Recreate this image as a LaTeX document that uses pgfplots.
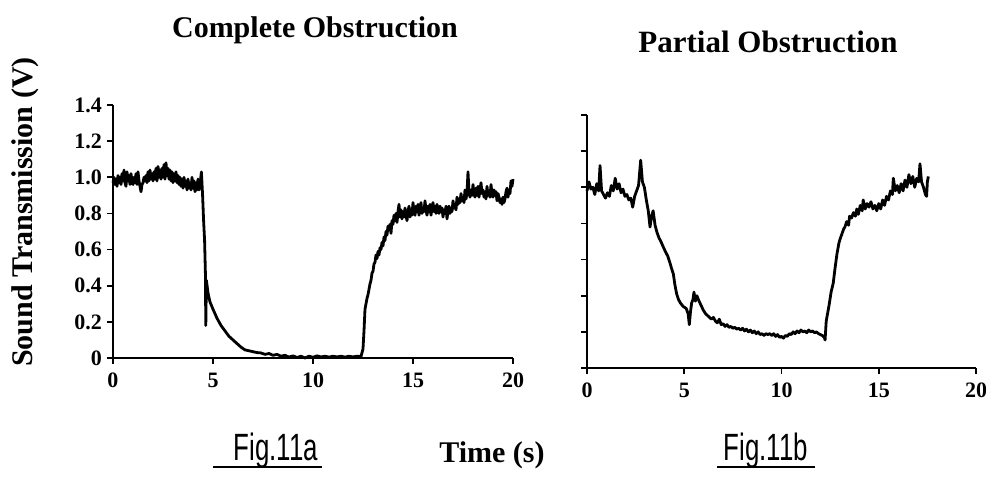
\documentclass[border=0pt]{standalone}
\usepackage{pgfplots}
\pgfplotsset{compat=1.18}
\usepackage{fontspec}
\setmainfont{Liberation Serif}
\newfontfamily\hand{Liberation Sans}
\begin{document}
\begin{tikzpicture}
\useasboundingbox (0,0) rectangle (493pt,-241.5pt);
\pgfplotsset{
  myax/.style={
    scale only axis, height=126.5pt,
    xmin=0, xmax=20, ymin=0, ymax=1.4,
    axis lines=left, axis line style={-, line width=1.3pt},
    xtick={0,5,10,15,20}, xticklabels={0,5,10,15,20},
    ytick={0,0.2,0.4,0.6,0.8,1.0,1.2,1.4},
    tick align=outside, major tick length=3pt,
    tick style={line width=0.9pt, black},
    tick label style={font=\bfseries\fontsize{11}{11}\selectfont},
    xticklabel style={yshift=-1pt},
    clip=false,
  }
}
\begin{axis}[myax, width=200pt, at={(56.5pt,-179pt)}, anchor=south west,
  yticklabels={0,0.2,0.4,0.6,0.8,1.0,1.2,1.4},
  yticklabel style={xshift=1pt}]
\addplot[black, line width=1.4pt, line join=round] coordinates {
(0.0,0.97)(0.05,1.00)(0.1,0.96)(0.15,0.99)(0.2,0.95)(0.25,1.01)(0.3,0.97)(0.35,1.00)(0.4,0.96)(0.45,1.02)
(0.5,0.98)(0.55,1.04)(0.6,0.97)(0.65,0.95)(0.7,1.03)(0.75,0.98)(0.8,1.01)(0.85,0.96)(0.9,1.02)(0.95,0.98)
(1.0,0.96)(1.05,1.00)(1.1,0.97)(1.15,1.02)(1.2,0.96)(1.25,1.03)(1.3,0.98)(1.35,0.95)(1.4,0.92)(1.45,0.96)
(1.5,0.97)(1.55,1.00)(1.6,0.98)(1.65,1.01)(1.7,0.97)(1.75,1.03)(1.8,0.98)(1.85,1.04)(1.9,0.99)(1.95,1.02)
(2.0,0.98)(2.05,1.03)(2.1,0.99)(2.15,1.05)(2.2,0.98)(2.25,1.06)(2.3,1.00)(2.35,1.04)(2.4,0.99)(2.45,1.05)
(2.5,1.00)(2.55,1.07)(2.6,0.99)(2.65,1.08)(2.7,1.01)(2.75,1.05)(2.8,0.99)(2.85,1.04)(2.9,0.98)(2.95,1.03)
(3.0,0.97)(3.05,1.02)(3.1,0.98)(3.15,1.03)(3.2,0.97)(3.25,1.01)(3.3,0.96)(3.35,1.00)(3.4,0.95)(3.45,0.99)
(3.5,0.94)(3.55,1.00)(3.6,0.95)(3.65,0.98)(3.7,0.93)(3.75,0.99)(3.8,0.94)(3.85,0.97)(3.9,0.93)(3.95,1.00)
(4.0,0.94)(4.05,0.98)(4.1,0.92)(4.15,0.97)(4.2,0.93)(4.25,0.99)(4.3,0.93)(4.35,0.96)(4.42,1.03)
(4.48,0.90)(4.53,0.76)(4.58,0.65)(4.62,0.47)(4.64,0.18)(4.67,0.43)(4.75,0.36)(4.85,0.31)(5.0,0.27)
(5.2,0.22)(5.4,0.18)(5.6,0.15)(5.8,0.12)(6.0,0.10)(6.2,0.08)(6.4,0.06)(6.6,0.045)(6.8,0.04)(7.0,0.035)
(7.2,0.03)(7.4,0.028)(7.6,0.02)(7.8,0.025)(8.0,0.015)(8.2,0.02)(8.4,0.01)(8.6,0.015)(8.8,0.005)(9.0,0.012)
(9.2,0.003)(9.4,0.01)(9.6,0.0)(9.8,0.01)(10.0,0.004)(10.2,0.012)(10.4,0.006)(10.6,0.01)(10.8,0.005)(11.0,0.01)
(11.2,0.006)(11.4,0.01)(11.6,0.005)(11.8,0.01)(12.0,0.006)(12.2,0.01)(12.4,0.008)(12.5,0.05)(12.55,0.15)
(12.6,0.27)(12.65,0.30)(12.7,0.33)(12.75,0.35)(12.8,0.38)(12.85,0.41)(12.9,0.43)(12.95,0.47)(13.0,0.48)
(13.05,0.52)(13.1,0.53)(13.15,0.57)(13.2,0.55)(13.25,0.59)(13.3,0.57)(13.35,0.61)(13.4,0.60)(13.45,0.64)
(13.5,0.62)(13.55,0.67)(13.6,0.65)(13.65,0.70)(13.7,0.68)(13.75,0.73)(13.8,0.71)(13.85,0.74)(13.9,0.69)
(13.95,0.76)(14.0,0.74)(14.05,0.79)(14.1,0.76)(14.15,0.80)(14.2,0.75)(14.25,0.81)(14.3,0.85)(14.35,0.78)
(14.4,0.82)(14.45,0.77)(14.5,0.81)(14.55,0.78)(14.6,0.83)(14.65,0.79)(14.7,0.76)(14.75,0.81)(14.8,0.84)
(14.85,0.78)(14.9,0.82)(14.95,0.79)(15.0,0.86)(15.05,0.81)(15.1,0.79)(15.15,0.84)(15.2,0.81)(15.25,0.85)
(15.3,0.79)(15.35,0.83)(15.4,0.86)(15.45,0.80)(15.5,0.83)(15.55,0.81)(15.6,0.87)(15.65,0.82)(15.7,0.79)
(15.75,0.84)(15.8,0.81)(15.85,0.85)(15.9,0.79)(15.95,0.83)(16.0,0.86)(16.05,0.81)(16.1,0.84)(16.15,0.80)
(16.2,0.85)(16.25,0.82)(16.3,0.80)(16.35,0.84)(16.4,0.81)(16.45,0.83)(16.5,0.78)(16.55,0.82)(16.6,0.80)
(16.65,0.84)(16.7,0.77)(16.75,0.81)(16.8,0.84)(16.85,0.80)(16.9,0.83)(16.95,0.81)(17.0,0.87)(17.05,0.83)
(17.1,0.85)(17.15,0.82)(17.2,0.89)(17.25,0.85)(17.3,0.88)(17.35,0.86)(17.4,0.91)(17.45,0.87)(17.5,0.89)
(17.55,0.86)(17.6,0.93)(17.65,0.88)(17.7,0.91)(17.75,1.03)(17.8,0.92)(17.85,0.89)(17.9,0.93)(17.95,0.90)
(18.0,0.96)(18.05,0.91)(18.1,0.89)(18.15,0.94)(18.2,0.90)(18.25,0.95)(18.3,0.89)(18.35,0.93)(18.4,0.97)
(18.45,0.91)(18.5,0.93)(18.55,0.89)(18.6,0.92)(18.65,0.88)(18.7,0.95)(18.75,0.90)(18.8,0.92)(18.85,0.89)
(18.9,0.96)(18.95,0.91)(19.0,0.89)(19.05,0.93)(19.1,0.90)(19.15,0.92)(19.2,0.87)(19.25,0.91)(19.3,0.89)
(19.35,0.86)(19.4,0.88)(19.45,0.85)(19.5,0.89)(19.55,0.86)(19.6,0.88)(19.65,0.92)(19.7,0.94)(19.75,0.89)
(19.8,0.93)(19.85,0.91)(19.9,0.98)(19.95,0.95)(20.0,0.99)
};
\end{axis}
\begin{axis}[myax, width=194.5pt, at={(293.5pt,-184pt)}, anchor=south west,
  yticklabels={}]
\addplot[black, line width=1.4pt, line join=round] coordinates {
(0.0,0.98)(0.1,1.03)(0.2,0.99)(0.3,1.00)(0.4,0.96)(0.5,1.02)(0.6,0.98)(0.67,1.12)(0.75,0.98)(0.85,0.96)
(0.95,0.94)(1.05,0.97)(1.15,0.95)(1.25,1.01)(1.35,0.98)(1.45,1.05)(1.55,0.99)(1.65,1.02)(1.75,0.97)
(1.85,0.99)(1.95,0.95)(2.05,0.96)(2.15,0.93)(2.25,0.94)(2.35,0.89)(2.45,0.95)(2.55,0.98)(2.65,1.01)
(2.76,1.15)(2.85,1.03)(2.95,1.00)(3.05,0.93)(3.15,0.87)(3.24,0.78)(3.32,0.84)(3.4,0.87)(3.5,0.79)
(3.6,0.75)(3.7,0.72)(3.8,0.70)(3.92,0.67)(4.05,0.64)(4.15,0.62)(4.27,0.58)(4.35,0.55)(4.44,0.52)
(4.52,0.46)(4.61,0.41)(4.7,0.38)(4.8,0.36)(4.95,0.34)(5.1,0.33)(5.2,0.30)(5.26,0.24)(5.32,0.31)
(5.38,0.36)(5.45,0.38)(5.5,0.42)(5.57,0.37)(5.65,0.40)(5.72,0.38)(5.85,0.35)(5.98,0.32)(6.1,0.30)
(6.2,0.29)(6.3,0.28)(6.4,0.27)(6.5,0.28)(6.6,0.26)(6.7,0.25)(6.8,0.27)(6.9,0.24)(7.0,0.245)(7.1,0.23)
(7.2,0.24)(7.3,0.225)(7.4,0.23)(7.5,0.22)(7.6,0.225)(7.7,0.215)(7.8,0.22)(7.9,0.21)(8.0,0.22)(8.1,0.205)
(8.2,0.215)(8.3,0.2)(8.4,0.21)(8.5,0.195)(8.6,0.205)(8.7,0.19)(8.8,0.20)(8.9,0.185)(9.0,0.19)(9.1,0.18)
(9.2,0.19)(9.3,0.185)(9.4,0.19)(9.5,0.18)(9.6,0.19)(9.7,0.175)(9.8,0.185)(9.9,0.17)(10.0,0.175)
(10.1,0.165)(10.2,0.18)(10.3,0.175)(10.4,0.19)(10.5,0.185)(10.6,0.2)(10.7,0.19)(10.8,0.205)(10.9,0.195)
(11.0,0.21)(11.1,0.2)(11.2,0.205)(11.3,0.195)(11.4,0.21)(11.5,0.2)(11.6,0.205)(11.7,0.195)(11.8,0.2)
(11.9,0.19)(12.0,0.185)(12.1,0.18)(12.2,0.17)(12.24,0.155)(12.3,0.26)(12.35,0.29)(12.45,0.35)(12.55,0.42)
(12.66,0.47)(12.75,0.55)(12.85,0.63)(12.95,0.69)(13.0,0.71)(13.1,0.74)(13.2,0.77)(13.26,0.78)(13.35,0.81)
(13.45,0.79)(13.5,0.84)(13.6,0.83)(13.7,0.86)(13.8,0.84)(13.87,0.88)(13.95,0.85)(14.05,0.90)(14.15,0.87)
(14.2,0.93)(14.3,0.88)(14.4,0.91)(14.5,0.89)(14.6,0.92)(14.7,0.88)(14.8,0.90)(14.9,0.87)(15.0,0.91)
(15.1,0.88)(15.2,0.93)(15.3,0.90)(15.4,0.95)(15.5,0.93)(15.6,0.98)(15.7,0.96)(15.75,1.05)(15.85,0.98)
(15.95,1.01)(16.05,0.97)(16.15,1.02)(16.25,0.98)(16.35,1.04)(16.45,1.00)(16.55,1.07)(16.65,1.02)
(16.75,1.06)(16.85,1.00)(16.95,1.05)(17.05,1.03)(17.12,1.13)(17.2,1.03)(17.3,1.00)(17.4,0.96)
(17.46,0.95)(17.5,1.03)(17.55,1.06)
};
\end{axis}
\node[font=\bfseries\fontsize{15}{15}\selectfont] at (157.5pt,-15pt) {Complete Obstruction};
\node[font=\bfseries\fontsize{15.5}{15.5}\selectfont] at (384pt,-21pt) {Partial Obstruction};
\node[font=\bfseries\fontsize{15}{15}\selectfont, rotate=90] at (12.5pt,-106pt) {Sound Transmission (V)};
\node[font=\bfseries\fontsize{15}{15}\selectfont] at (246pt,-227.5pt) {Time (s)};
\node[font=\hand\fontsize{19}{19}\selectfont, xscale=0.68] at (138pt,-225.5pt) {Fig.11a};
\draw[line width=0.8pt] (106.5pt,-233.5pt) -- (161pt,-233.5pt);
\node[font=\hand\fontsize{19}{19}\selectfont, xscale=0.68] at (383pt,-225.5pt) {Fig.11b};
\draw[line width=0.8pt] (358.5pt,-233.5pt) -- (407.5pt,-233.5pt);
\end{tikzpicture}
\end{document}
